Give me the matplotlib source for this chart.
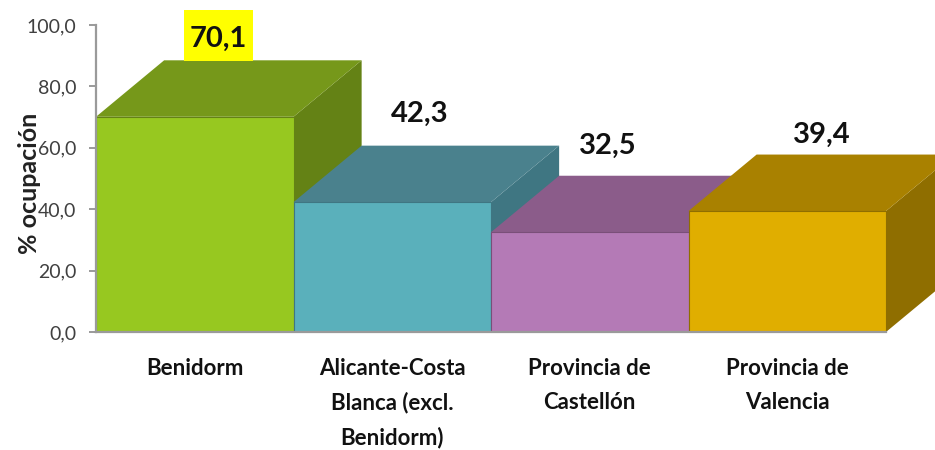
import matplotlib
matplotlib.use("Agg")
import matplotlib.pyplot as plt
from matplotlib.patches import Rectangle

plt.rcParams["font.family"] = ["Lato", "DejaVu Sans"]

categories = ["Benidorm", "Alicante-Costa\nBlanca (excl.\nBenidorm)",
              "Provincia de\nCastellón", "Provincia de\nValencia"]
values = [70.1, 42.3, 32.5, 39.4]
value_labels = ["70,1", "42,3", "32,5", "39,4"]
y_ticks = [0, 20, 40, 60, 80, 100]
y_tick_labels = ["0,0", "20,0", "40,0", "60,0", "80,0", "100,0"]

front_colors = ["#97C820", "#5AB0BB", "#B47AB6", "#E0AE00"]
top_colors = ["#76981A", "#4A818D", "#8B5C8A", "#A98100"]
side_colors = ["#648215", "#3F7682", "#7A4F79", "#8F6E00"]

W, H = 935, 450
AX_LEFT, AX_BOTTOM, AX_TOP = 96, 332, 25
BAR_PX = 197.5

fig = plt.figure(figsize=(W / 100, H / 100), dpi=100)
ax = fig.add_axes([AX_LEFT / W, 1 - AX_BOTTOM / H, 1 - AX_LEFT / W, (AX_BOTTOM - AX_TOP) / H])
ax.set_xlim(-0.5, -0.5 + (W - AX_LEFT) / BAR_PX)
ax.set_ylim(0, 100)

# depth of the fake 3d boxes, in data units
depth_x = 0.345
depth_y = 18.4

for i, v in enumerate(values):
    l, r = i - 0.5, i + 0.5
    ax.fill([r, r + depth_x, r + depth_x, r], [0, depth_y, v + depth_y, v],
            color=side_colors[i], lw=0, zorder=2 + i, clip_on=False)
    ax.fill([l, l + depth_x, r + depth_x, r], [v, v + depth_y, v + depth_y, v],
            color=top_colors[i], lw=0, zorder=2 + i, clip_on=False)
    ax.bar(i, v, width=1, color=front_colors[i], edgecolor=side_colors[i], linewidth=0.8, zorder=2 + i)

# yellow highlight behind the first label
ax.add_patch(Rectangle((-0.054, 88.3), 0.349, 16.6, facecolor="#FFFF00", edgecolor="none",
                       zorder=9, clip_on=False))

# labels float above the boxes, each at its own offset
label_offsets = [(17, 56), (20, 63.5), (13, 62), (25, 54.5)]
for i, v in enumerate(values):
    ax.annotate(value_labels[i], (i, v), xytext=label_offsets[i], textcoords="offset points",
                ha="center", va="center", fontsize=21, fontweight="bold", color="#111111",
                zorder=10, annotation_clip=False)

ax.set_yticks(y_ticks, y_tick_labels)
ax.set_xticks(range(len(categories)), categories)
ax.tick_params(axis="y", length=5, width=1.4, color="#9A9A9A", pad=9, labelsize=14, labelcolor="#404040")
ax.tick_params(axis="x", length=0, pad=19, labelsize=16, labelcolor="#111111")
for lab in ax.get_xticklabels():
    lab.set_fontweight("bold")
    lab.set_linespacing(1.72)

for s in ["top", "right"]:
    ax.spines[s].set_visible(False)
for s in ["left", "bottom"]:
    ax.spines[s].set_color("#9A9A9A")
    ax.spines[s].set_linewidth(1.6)
    ax.spines[s].set_zorder(20)
ax.spines["bottom"].set_bounds(-0.5, 3.5)

ax.set_ylabel("% ocupación", fontsize=18, fontweight="bold", color="#222222")
ax.yaxis.set_label_coords((41 - AX_LEFT) / (W - AX_LEFT), (AX_BOTTOM - 183) / (AX_BOTTOM - AX_TOP))

fig.savefig("out.png", dpi=100)
